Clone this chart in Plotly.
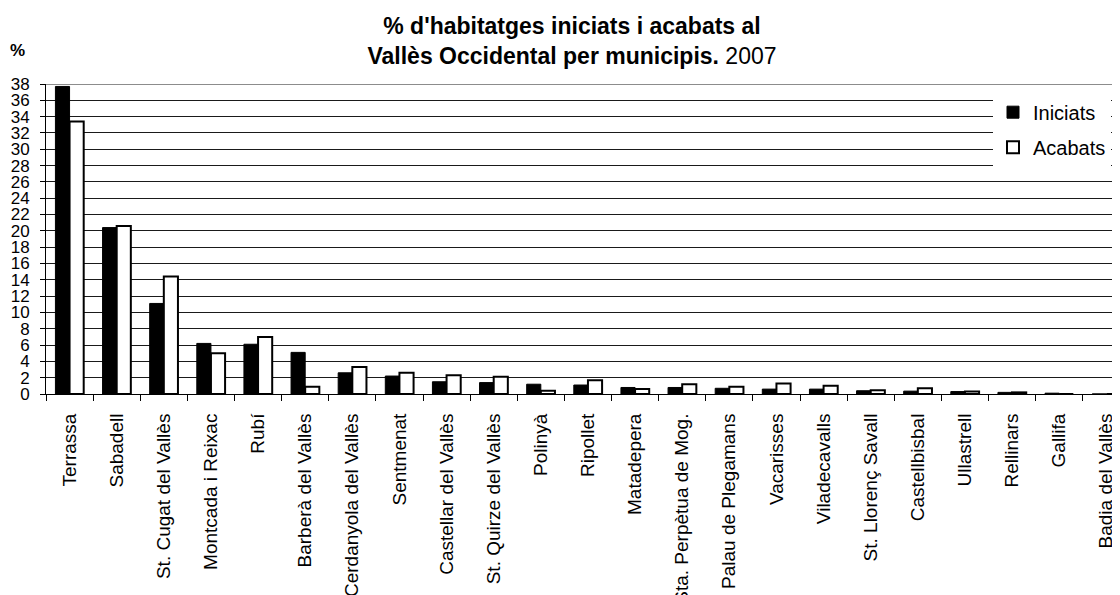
import plotly.graph_objects as go

municipis = ["Terrassa", "Sabadell", "St. Cugat del Vallès", "Montcada i Reixac", "Rubí",
             "Barberà del Vallès", "Cerdanyola del Vallès", "Sentmenat", "Castellar del Vallès",
             "St. Quirze del Vallès", "Polinyà", "Ripollet", "Matadepera", "Sta. Perpètua de Mog.",
             "Palau de Plegamans", "Vacarisses", "Viladecavalls", "St. Llorenç Savall",
             "Castellbisbal", "Ullastrell", "Rellinars", "Gallifa", "Badia del Vallès"]
iniciats = [37.7, 20.4, 11.1, 6.2, 6.1, 5.1, 2.6, 2.2, 1.5, 1.4, 1.2, 1.1, 0.8, 0.8,
            0.7, 0.6, 0.6, 0.4, 0.35, 0.3, 0.2, 0.1, 0]
acabats = [33.4, 20.6, 14.4, 5.0, 7.0, 0.9, 3.3, 2.6, 2.3, 2.1, 0.4, 1.7, 0.6, 1.2,
           0.9, 1.3, 1.0, 0.45, 0.7, 0.3, 0.2, 0.0, 0]
y_ticks = list(range(0, 39, 2))

FONT = "Liberation Sans, Arial, sans-serif"

# the page body adds an 8px offset; the figure is sized to fit the 1120x595 window
W, H = 1112, 587
L, T, B = 38, 76, 201
PW, PH = W - L, H - T - B

fig = go.Figure()
fig.add_trace(go.Bar(x=municipis, y=iniciats, name="Iniciats", legendgroup="a",
                     marker=dict(color="black", line=dict(color="black", width=1))))
fig.add_trace(go.Bar(x=municipis, y=acabats, name="Acabats", legendgroup="b",
                     marker=dict(color="white", line=dict(color="black", width=2))))

fig.update_layout(
    width=W, height=H,
    margin=dict(l=L, r=0, t=T, b=B, autoexpand=False),
    paper_bgcolor="white", plot_bgcolor="white",
    barmode="group", bargap=0.4, bargroupgap=0,
    font=dict(family=FONT, color="black"),
    title=dict(
        text="<b>% d'habitatges iniciats i acabats al<br>Vallès Occidental per municipis.</b> 2007",
        x=564 / W, xanchor="center", xref="container",
        y=(H - 26) / H, yanchor="middle", yref="container",
        font=dict(size=23, family=FONT, color="black"),
    ),
    legend=dict(
        x=(985 - L) / PW, xanchor="left", y=0.972, yanchor="top",
        bgcolor="white", borderwidth=0,
        font=dict(size=20, family=FONT, color="black"),
        tracegroupgap=6,
    ),
    showlegend=True,
)

fig.update_xaxes(
    type="category", range=[-0.5, 22.29], automargin=False,
    tickangle=-90, tickfont=dict(size=19, family=FONT, color="black"),
    showline=True, linecolor="black", linewidth=1,
    ticks="outside", tickson="boundaries", ticklen=6, tickcolor="black",
    showgrid=False, ticklabelstandoff=11,
)
fig.update_yaxes(
    range=[0, 38], automargin=False, tickmode="array", tickvals=y_ticks,
    ticktext=[str(v) for v in y_ticks],
    tickfont=dict(size=17, family=FONT, color="black"),
    showline=True, linecolor="black", linewidth=1,
    ticks="outside", ticklen=5, tickcolor="black",
    showgrid=True, gridcolor="#1a1a1a", gridwidth=1,
    zeroline=False, ticklabelstandoff=7,
)

fig.add_shape(type="line", xref="paper", yref="y", x0=0, x1=1, y0=38, y1=38,
              line=dict(color="#8c8c8c", width=2))

fig.add_annotation(text="<b>%</b>", xref="paper", yref="paper",
                   x=(9 - L) / PW, y=1 + (T - 42) / PH,
                   xanchor="center", yanchor="middle", showarrow=False,
                   font=dict(size=17, family=FONT, color="black"))

fig.write_html("out.html")
